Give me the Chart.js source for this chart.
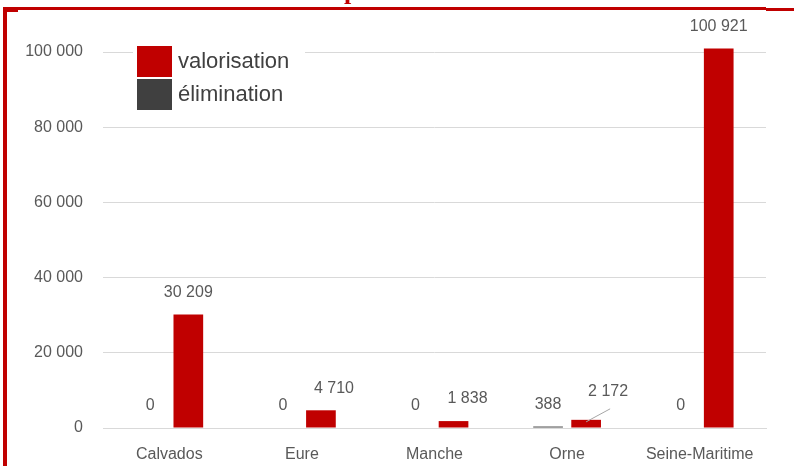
<!DOCTYPE html>
<html lang="fr">
<head>
<meta charset="utf-8">
<script src="https://cdn.jsdelivr.net/npm/chart.js@4/dist/chart.umd.min.js"></script>
<style>
  html, body { margin: 0; padding: 0; background: #fff; }
  #wrap { position: relative; width: 794px; height: 466px; overflow: hidden; }
  #graf { position: absolute; left: 0; top: 0; }
  .bord { position: absolute; background: #c00000; }
  #titre {
    position: absolute; left: 0; top: 0; width: 794px; height: 8px; overflow: hidden;
  }
  #titre span {
    position: absolute; left: 344px; top: -24px;
    font: bold 26px "Liberation Serif", "DejaVu Serif", serif; color: #c00000;
  }
</style>
</head>
<body>
<div id="wrap">
  <canvas id="graf" width="794" height="466"></canvas>
  <div id="titre"><span>p</span></div>
  <div class="bord" style="left:3px;top:7px;width:763px;height:3px"></div>
  <div class="bord" style="left:766px;top:8px;width:28px;height:3px"></div>
  <div class="bord" style="left:3px;top:7px;width:4px;height:459px"></div>
  <div class="bord" style="left:3px;top:10px;width:15px;height:2px"></div>
</div>
<script>
// donnees
const categories = ['Calvados', 'Eure', 'Manche', 'Orne', 'Seine-Maritime'];
const elimination = [0, 0, 0, 388, 0];
const valorisation = [30209, 4710, 1838, 2172, 100921];
const yTickValues = [0, 20000, 40000, 60000, 80000, 100000];

const ROUGE = '#c00000';
const GRIS = '#404040';
const TEXTE = '#595959';
const POLICE = '"Liberation Sans", Arial, sans-serif';

const fmt = v => String(v).replace(/\B(?=(\d{3})+(?!\d))/g, ' ');

// ============================
//     ETIQUETTES + LEGENDE
// ============================
const etiquettes = {
  id: 'etiquettes',
  afterDatasetsDraw(chart, args, opts) {
    const ctx = chart.ctx;
    ctx.save();
    ctx.font = '16px ' + POLICE;
    ctx.fillStyle = TEXTE;
    ctx.textAlign = 'center';
    ctx.textBaseline = 'middle';
    chart.data.datasets.forEach((ds, i) => {
      const meta = chart.getDatasetMeta(i);
      const decal = opts.decalages[i] || [];
      meta.data.forEach((bar, j) => {
        const d = decal[j] || [0, 0];
        const x = bar.x + d[0];
        const y = bar.y - 22 + d[1];
        ctx.fillText(fmt(ds.data[j]), x, y);
        if (d[2]) {
          ctx.strokeStyle = '#a6a6a6';
          ctx.lineWidth = 1;
          ctx.beginPath();
          ctx.moveTo(x + 2, y + 17);
          ctx.lineTo(bar.x, bar.y + 2);
          ctx.stroke();
        }
      });
    });

    // legende a l'interieur du graphique
    const L = opts.legende;
    ctx.fillStyle = '#fff';
    ctx.fillRect(L.x - 4, L.y - 6, 172, 74);
    const items = chart.data.datasets.slice().reverse();
    ctx.font = '22px ' + POLICE;
    ctx.textAlign = 'left';
    items.forEach((ds, k) => {
      const y = L.y + k * 33;
      ctx.fillStyle = ds.backgroundColor;
      ctx.fillRect(L.x, y, 35, 31);
      ctx.fillStyle = GRIS;
      ctx.fillText(ds.label, L.x + 41, y + 16);
    });
    ctx.restore();
  }
};

new Chart(document.getElementById('graf'), {
  type: 'bar',
  data: {
    labels: categories,
    datasets: [
      { label: 'élimination', data: elimination, backgroundColor: GRIS, clip: false },
      { label: 'valorisation', data: valorisation, backgroundColor: ROUGE, clip: false }
    ]
  },
  options: {
    responsive: false,
    animation: false,
    categoryPercentage: 0.574,
    barPercentage: 0.78,
    layout: { padding: { top: 52, right: 28, left: 0, bottom: 0 } },
    plugins: {
      legend: { display: false },
      tooltip: { enabled: false },
      etiquettes: {
        decalages: [[], [[0, 0], [13, 0], [14, 0], [22, -6, true], [0, 0]]],
        legende: { x: 137, y: 46 }
      }
    },
    scales: {
      x: {
        grid: { display: false },
        border: { color: '#d9d9d9' },
        ticks: { color: TEXTE, font: { family: POLICE, size: 16 }, padding: 9 },
        afterFit(s) { s.height = 38; }
      },
      y: {
        min: 0,
        max: 100000,
        border: { display: false },
        grid: { color: '#d9d9d9', drawTicks: false },
        afterBuildTicks(s) { s.ticks = yTickValues.map(v => ({ value: v })); },
        ticks: {
          color: TEXTE,
          font: { family: POLICE, size: 16 },
          padding: 20,
          callback: v => fmt(v)
        },
        afterFit(s) { s.width = 103; }
      }
    }
  },
  plugins: [etiquettes]
});
</script>
</body>
</html>
